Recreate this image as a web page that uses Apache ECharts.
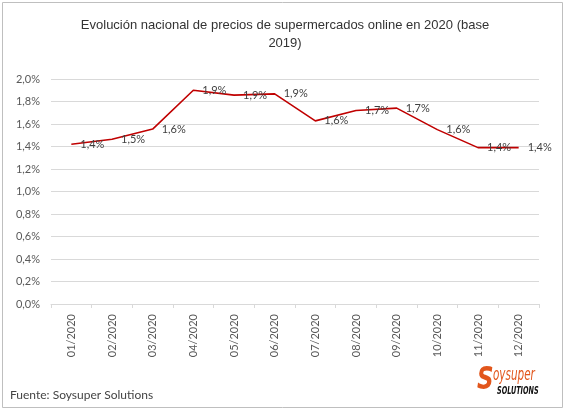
<!DOCTYPE html>
<html>
<head>
<meta charset="utf-8">
<script src="https://cdn.jsdelivr.net/npm/echarts@6/dist/echarts.min.js"></script>
<style>
  html, body { margin: 0; padding: 0; background: #fff; }
  #chart { width: 567px; height: 412px; }
</style>
</head>
<body>
<div id="chart"></div>
<script>
var months = ['01/2020', '02/2020', '03/2020', '04/2020', '05/2020', '06/2020',
              '07/2020', '08/2020', '09/2020', '10/2020', '11/2020', '12/2020'];
// variacion de precios (%) frente a 2019
var precios = [1.42, 1.465, 1.555, 1.90, 1.857, 1.868, 1.628, 1.72, 1.741, 1.55, 1.39, 1.39];
var yTicks = [0, 0.2, 0.4, 0.6, 0.8, 1.0, 1.2, 1.4, 1.6, 1.8, 2.0];

var chart = echarts.init(document.getElementById('chart'));

function pct(v, d) {
    return v.toFixed(d).replace('.', ',') + '%';
}

var option = {
    backgroundColor: '#fff',
    animation: false,
    title: {
        text: 'Evolución nacional de precios de supermercados online en 2020 (base\n2019)',
        left: 280,
        top: 11,
        textAlign: 'center',
        textStyle: {
            fontFamily: 'Liberation Sans',
            fontSize: 13,
            fontWeight: 'normal',
            color: '#333',
            lineHeight: 18,
            align: 'center'
        }
    },
    grid: {
        left: 51,
        right: 28,
        top: 79,
        bottom: 108
    },
    xAxis: {
        type: 'category',
        data: months,
        boundaryGap: true,
        axisLine: { lineStyle: { color: '#d9d9d9', width: 1 } },
        axisTick: { show: true, inside: false, length: 4, lineStyle: { color: '#d9d9d9' } },
        axisLabel: {
            rotate: 90,
            margin: 10,
            fontFamily: 'Lato',
            fontSize: 11,
            color: '#595959'
        }
    },
    yAxis: {
        type: 'value',
        min: yTicks[0],
        max: yTicks[yTicks.length - 1],
        interval: 0.2,
        axisLine: { show: false },
        axisTick: { show: false },
        splitLine: { lineStyle: { color: '#d9d9d9', width: 1 } },
        axisLabel: {
            margin: 11,
            fontFamily: 'Lato',
            fontSize: 11,
            color: '#595959',
            formatter: function (v) { return pct(v, 1); }
        }
    },
    series: [{
        type: 'line',
        data: precios,
        symbol: 'circle',
        symbolSize: 2,
        showSymbol: true,
        showAllSymbol: true,
        itemStyle: { color: 'rgba(192,0,0,0)' },
        lineStyle: { color: '#c00000', width: 1.6 },
        label: {
            show: true,
            position: 'right',
            distance: 8,
            fontFamily: 'Lato',
            fontSize: 11,
            color: '#404040',
            formatter: function (p) { return pct(p.value, 1); }
        }
    }],
    graphic: [
        {
            type: 'rect',
            shape: { x: 2.5, y: 2.5, width: 560, height: 405 },
            style: { fill: 'none', stroke: '#bfbfbf', lineWidth: 1 },
            silent: true
        },
        {
            type: 'text',
            left: 10,
            top: 389,
            style: {
                text: 'Fuente: Soysuper Solutions',
                font: '12px Lato',
                fill: '#444'
            }
        },
        {
            type: 'text',
            x: 477,
            y: 365,
            scaleX: 0.8,
            style: {
                text: 'S',
                font: 'italic bold 32px "DejaVu Sans Condensed", "Liberation Sans"',
                fill: '#e2561c'
            }
        },
        {
            type: 'text',
            x: 493,
            y: 367,
            scaleX: 0.68,
            style: {
                text: 'oysuper',
                font: 'italic 17px "DejaVu Sans Condensed", "Liberation Sans"',
                fill: '#e2561c'
            }
        },
        {
            type: 'text',
            x: 497,
            y: 386,
            scaleX: 0.72,
            style: {
                text: 'SOLUTIONS',
                font: 'italic bold 10px "DejaVu Sans Condensed", "Liberation Sans"',
                fill: '#111'
            }
        }
    ]
};

chart.setOption(option);
</script>
</body>
</html>
